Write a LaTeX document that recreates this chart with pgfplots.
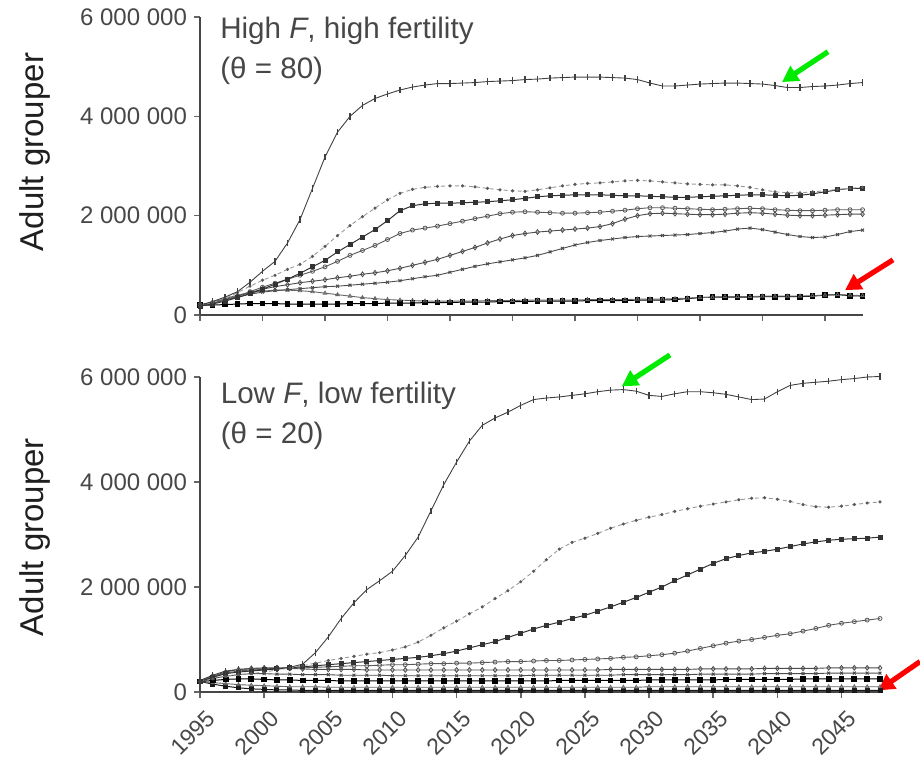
\documentclass[border=0pt]{standalone}
\usepackage{fontspec}
\setmainfont{Liberation Sans}
\usepackage{pgfplots}
\usepackage{pgfplotstable}
\pgfplotsset{compat=1.18}
\usetikzlibrary{arrows.meta}

% Adult grouper abundance (millions), high F / high fertility scenario
\pgfplotstableread{
year a    b    c    d    e    f    g    h
1995 0.20 0.20 0.18 0.20 0.20 0.20 0.20 0.20
1996 0.27 0.25 0.22 0.24 0.25 0.24 0.20 0.26
1997 0.36 0.33 0.28 0.30 0.31 0.30 0.21 0.33
1998 0.47 0.45 0.35 0.38 0.38 0.36 0.22 0.40
1999 0.66 0.58 0.43 0.47 0.45 0.42 0.23 0.45
2000 0.88 0.70 0.52 0.56 0.52 0.46 0.23 0.48
2001 1.08 0.80 0.62 0.64 0.57 0.49 0.23 0.50
2002 1.45 0.92 0.72 0.72 0.61 0.51 0.22 0.50
2003 1.92 1.02 0.84 0.80 0.65 0.53 0.22 0.49
2004 2.55 1.18 0.97 0.88 0.68 0.55 0.22 0.47
2005 3.18 1.38 1.10 0.97 0.71 0.57 0.22 0.44
2006 3.68 1.60 1.27 1.08 0.75 0.58 0.22 0.41
2007 4.00 1.80 1.42 1.20 0.78 0.60 0.23 0.38
2008 4.22 1.98 1.57 1.30 0.82 0.62 0.23 0.35
2009 4.36 2.15 1.72 1.40 0.85 0.64 0.23 0.33
2010 4.45 2.32 1.90 1.52 0.89 0.66 0.24 0.31
2011 4.53 2.45 2.10 1.64 0.94 0.69 0.24 0.30
2012 4.59 2.53 2.20 1.71 1.00 0.73 0.24 0.29
2013 4.63 2.57 2.24 1.75 1.06 0.77 0.25 0.28
2014 4.66 2.59 2.25 1.79 1.12 0.80 0.25 0.28
2015 4.66 2.60 2.25 1.84 1.20 0.86 0.25 0.28
2016 4.67 2.60 2.26 1.89 1.28 0.92 0.26 0.28
2017 4.68 2.58 2.27 1.94 1.36 0.98 0.26 0.28
2018 4.70 2.55 2.28 1.99 1.45 1.03 0.26 0.29
2019 4.71 2.52 2.30 2.04 1.53 1.07 0.27 0.29
2020 4.72 2.50 2.32 2.07 1.60 1.11 0.27 0.29
2021 4.74 2.49 2.35 2.08 1.64 1.15 0.27 0.30
2022 4.75 2.52 2.38 2.07 1.67 1.20 0.28 0.30
2023 4.77 2.56 2.40 2.06 1.69 1.27 0.28 0.30
2024 4.78 2.60 2.41 2.05 1.71 1.34 0.28 0.30
2025 4.79 2.63 2.42 2.05 1.73 1.41 0.28 0.30
2026 4.79 2.65 2.42 2.06 1.75 1.46 0.29 0.31
2027 4.79 2.66 2.42 2.07 1.78 1.50 0.29 0.31
2028 4.78 2.68 2.41 2.09 1.84 1.53 0.29 0.31
2029 4.77 2.70 2.40 2.11 1.93 1.56 0.29 0.31
2030 4.74 2.71 2.40 2.14 2.00 1.58 0.30 0.32
2031 4.67 2.70 2.39 2.16 2.04 1.59 0.30 0.32
2032 4.61 2.68 2.38 2.16 2.05 1.60 0.30 0.32
2033 4.61 2.66 2.37 2.15 2.04 1.61 0.31 0.33
2034 4.63 2.64 2.37 2.14 2.03 1.62 0.33 0.34
2035 4.65 2.63 2.38 2.13 2.02 1.64 0.35 0.35
2036 4.66 2.62 2.39 2.12 2.02 1.66 0.36 0.36
2037 4.67 2.62 2.40 2.13 2.03 1.69 0.36 0.37
2038 4.67 2.60 2.41 2.14 2.05 1.73 0.36 0.37
2039 4.66 2.57 2.42 2.15 2.06 1.75 0.36 0.37
2040 4.65 2.52 2.42 2.14 2.05 1.72 0.37 0.38
2041 4.62 2.48 2.41 2.12 2.03 1.67 0.37 0.38
2042 4.58 2.46 2.40 2.11 2.01 1.62 0.37 0.38
2043 4.58 2.46 2.41 2.10 2.00 1.58 0.37 0.38
2044 4.60 2.48 2.44 2.10 2.00 1.56 0.38 0.39
2045 4.61 2.50 2.48 2.11 2.01 1.57 0.40 0.40
2046 4.63 2.53 2.52 2.12 2.02 1.62 0.41 0.41
2047 4.66 2.55 2.55 2.12 2.03 1.68 0.39 0.40
2048 4.68 2.57 2.55 2.12 2.03 1.71 0.38 0.39
}\hightable

% Adult grouper abundance (millions), low F / low fertility scenario
\pgfplotstableread{
year a    b    c    d    e    f    g    h    i
1995 0.22 0.20 0.20 0.20 0.20 0.20 0.20 0.20 0.20
1996 0.32 0.25 0.28 0.30 0.30 0.26 0.22 0.18 0.15
1997 0.40 0.30 0.35 0.36 0.38 0.30 0.24 0.16 0.11
1998 0.43 0.33 0.38 0.40 0.43 0.33 0.25 0.14 0.08
1999 0.44 0.35 0.40 0.42 0.45 0.35 0.25 0.13 0.06
2000 0.44 0.38 0.42 0.43 0.46 0.35 0.24 0.12 0.05
2001 0.45 0.42 0.44 0.44 0.46 0.34 0.23 0.11 0.04
2002 0.47 0.46 0.46 0.45 0.45 0.34 0.23 0.10 0.04
2003 0.53 0.50 0.48 0.46 0.44 0.33 0.22 0.10 0.03
2004 0.75 0.55 0.50 0.47 0.43 0.33 0.22 0.10 0.03
2005 1.05 0.60 0.52 0.48 0.43 0.33 0.22 0.09 0.03
2006 1.40 0.64 0.54 0.49 0.43 0.32 0.21 0.09 0.03
2007 1.70 0.68 0.56 0.50 0.43 0.32 0.21 0.09 0.03
2008 1.95 0.72 0.58 0.50 0.42 0.32 0.21 0.09 0.03
2009 2.12 0.75 0.60 0.51 0.42 0.32 0.21 0.09 0.03
2010 2.30 0.80 0.62 0.52 0.42 0.31 0.21 0.09 0.03
2011 2.60 0.86 0.64 0.52 0.42 0.31 0.21 0.09 0.03
2012 2.95 0.95 0.66 0.53 0.42 0.31 0.21 0.09 0.03
2013 3.45 1.08 0.69 0.54 0.42 0.31 0.21 0.09 0.03
2014 3.95 1.22 0.73 0.54 0.42 0.31 0.21 0.09 0.03
2015 4.38 1.35 0.78 0.55 0.42 0.31 0.21 0.09 0.03
2016 4.78 1.49 0.84 0.55 0.42 0.31 0.21 0.09 0.03
2017 5.08 1.62 0.90 0.56 0.42 0.31 0.21 0.09 0.03
2018 5.22 1.78 0.96 0.57 0.42 0.31 0.21 0.09 0.03
2019 5.33 1.93 1.04 0.58 0.42 0.31 0.21 0.09 0.03
2020 5.46 2.10 1.12 0.58 0.42 0.31 0.21 0.09 0.03
2021 5.57 2.30 1.20 0.59 0.42 0.32 0.21 0.09 0.03
2022 5.60 2.52 1.27 0.60 0.42 0.32 0.21 0.09 0.03
2023 5.62 2.72 1.33 0.60 0.42 0.32 0.22 0.09 0.03
2024 5.65 2.85 1.40 0.61 0.42 0.32 0.22 0.09 0.03
2025 5.68 2.93 1.46 0.62 0.42 0.32 0.22 0.09 0.03
2026 5.72 3.02 1.54 0.63 0.42 0.32 0.22 0.09 0.03
2027 5.75 3.12 1.62 0.64 0.43 0.32 0.22 0.09 0.03
2028 5.76 3.20 1.71 0.66 0.43 0.33 0.22 0.09 0.03
2029 5.73 3.27 1.80 0.67 0.43 0.33 0.22 0.09 0.03
2030 5.65 3.33 1.90 0.69 0.43 0.33 0.23 0.10 0.03
2031 5.63 3.38 2.00 0.71 0.43 0.33 0.23 0.10 0.03
2032 5.68 3.44 2.12 0.74 0.43 0.33 0.23 0.10 0.03
2033 5.72 3.49 2.23 0.78 0.43 0.33 0.23 0.10 0.03
2034 5.72 3.54 2.34 0.83 0.44 0.34 0.23 0.10 0.03
2035 5.70 3.58 2.45 0.88 0.44 0.34 0.23 0.10 0.03
2036 5.67 3.62 2.54 0.93 0.44 0.34 0.24 0.10 0.03
2037 5.62 3.66 2.60 0.97 0.44 0.34 0.24 0.10 0.03
2038 5.57 3.69 2.65 1.00 0.44 0.34 0.24 0.10 0.03
2039 5.58 3.70 2.68 1.04 0.45 0.35 0.24 0.10 0.03
2040 5.72 3.67 2.72 1.08 0.45 0.35 0.24 0.10 0.03
2041 5.84 3.63 2.77 1.11 0.45 0.35 0.24 0.10 0.03
2042 5.88 3.57 2.82 1.16 0.45 0.35 0.25 0.10 0.03
2043 5.90 3.53 2.86 1.21 0.45 0.35 0.25 0.10 0.03
2044 5.92 3.52 2.89 1.27 0.46 0.36 0.25 0.10 0.03
2045 5.95 3.54 2.91 1.31 0.46 0.36 0.25 0.10 0.03
2046 5.97 3.57 2.92 1.34 0.46 0.36 0.25 0.10 0.03
2047 6.00 3.60 2.93 1.37 0.46 0.36 0.25 0.10 0.03
2048 6.01 3.62 2.95 1.40 0.46 0.36 0.25 0.10 0.03
}\lowtable

\definecolor{arrowgreen}{RGB}{0,235,0}
\definecolor{arrowred}{RGB}{255,0,0}

\pgfplotsset{
  grouperaxis/.style={
    scale only axis, anchor=south west,
    xmin=1995, xmax=2048, ymin=0, ymax=6,
    axis x line*=bottom, axis y line*=left,
    axis line style={-, black!72, line width=1.1pt},
    tick align=outside, major tick length=3pt,
    tick style={black!60, line width=0.8pt},
    xtick={1995,2000,...,2045},
    ytick={0,2,4,6},
    yticklabels={0,2 000 000,4 000 000,6 000 000},
    yticklabel style={font=\fontsize{12}{14}\selectfont, text=black!72},
    ylabel={Adult grouper},
    ylabel style={font=\fontsize{16.5}{18}\selectfont, text=black!88, anchor=center},
    clip=false,
  },
  sA/.style={black!75, line width=0.45pt, mark=|, mark size=1.6pt, mark options={line width=0.6pt}},
  sB/.style={black!40, line width=0.45pt, dash pattern=on 2pt off 1.5pt, mark=*, mark size=0.55pt, mark options={solid, black!65}},
  sC/.style={black!80, line width=0.5pt, mark=square*, mark size=1pt},
  sD/.style={black!65, line width=0.45pt, mark=o, mark size=1pt, mark options={line width=0.4pt}},
  sE/.style={black!70, line width=0.45pt, mark=diamond, mark size=1.2pt, mark options={line width=0.4pt}},
  sF/.style={black!70, line width=0.45pt, mark=x, mark size=1pt, mark options={line width=0.5pt}},
  sG/.style={black, line width=0.5pt, mark=square*, mark size=1.2pt},
  sH/.style={black!60, line width=0.45pt, mark=triangle, mark size=1pt, mark options={line width=0.4pt}},
  sI/.style={black!90, line width=0.5pt, mark=square*, mark size=1pt},
}

\begin{document}
\begin{tikzpicture}
\useasboundingbox (0,0) rectangle (460pt,380pt);

% upper panel: high F, high fertility
\begin{axis}[grouperaxis,
  at={(100pt,222.5pt)}, width=331.25pt, height=149pt,
  xticklabels={},
  ylabel style={at={(axis description cs:-0.249,0.547)}},
]
\addplot[sG] table[x=year,y=g]{\hightable};
\addplot[sH] table[x=year,y=h]{\hightable};
\addplot[sF] table[x=year,y=f]{\hightable};
\addplot[sE] table[x=year,y=e]{\hightable};
\addplot[sD] table[x=year,y=d]{\hightable};
\addplot[sC] table[x=year,y=c]{\hightable};
\addplot[sB] table[x=year,y=b]{\hightable};
\addplot[sA] table[x=year,y=a]{\hightable};
\node[anchor=north west, align=left, inner sep=0pt, text=black!72,
      font=\fontsize{14.8}{20}\selectfont]
  at (rel axis cs:0.03,1.0) {High \textit{F}, high fertility\\(θ = 80)};
\draw[-{Triangle[length=8pt,width=8.5pt]}, line width=2.6pt, arrowgreen]
  (axis cs:2045.24,5.30) -- (axis cs:2041.56,4.69);
\draw[-{Triangle[length=8pt,width=8.5pt]}, line width=2.6pt, arrowred]
  (axis cs:2050.44,1.11) -- (axis cs:2046.6,0.50);
\end{axis}

% lower panel: low F, low fertility
\begin{axis}[grouperaxis,
  at={(100pt,34pt)}, width=340pt, height=157.5pt,
  xticklabels={1995,2000,2005,2010,2015,2020,2025,2030,2035,2040,2045},
  xticklabel style={xshift=2.5pt, yshift=1.5pt, rotate=45, anchor=north east,
                    font=\fontsize{11.5}{13}\selectfont, text=black!72},
  xticklabel shift=2pt,
  ylabel style={at={(axis description cs:-0.243,0.492)}},
]
\addplot[sI] table[x=year,y=i]{\lowtable};
\addplot[sH] table[x=year,y=h]{\lowtable};
\addplot[sG] table[x=year,y=g]{\lowtable};
\addplot[sF] table[x=year,y=f]{\lowtable};
\addplot[sE] table[x=year,y=e]{\lowtable};
\addplot[sD] table[x=year,y=d]{\lowtable};
\addplot[sC] table[x=year,y=c]{\lowtable};
\addplot[sB] table[x=year,y=b]{\lowtable};
\addplot[sA] table[x=year,y=a]{\lowtable};
\node[anchor=north west, align=left, inner sep=0pt, text=black!72,
      font=\fontsize{14.8}{20}\selectfont]
  at (rel axis cs:0.03,0.985) {Low \textit{F}, low fertility\\(θ = 20)};
\draw[-{Triangle[length=8pt,width=8.5pt]}, line width=2.6pt, arrowgreen]
  (axis cs:2031.63,6.42) -- (axis cs:2027.87,5.82);
\draw[-{Triangle[length=8pt,width=8.5pt]}, line width=2.6pt, arrowred]
  (axis cs:2051.12,0.58) -- (axis cs:2047.87,0.03);
\end{axis}
\end{tikzpicture}
\end{document}
